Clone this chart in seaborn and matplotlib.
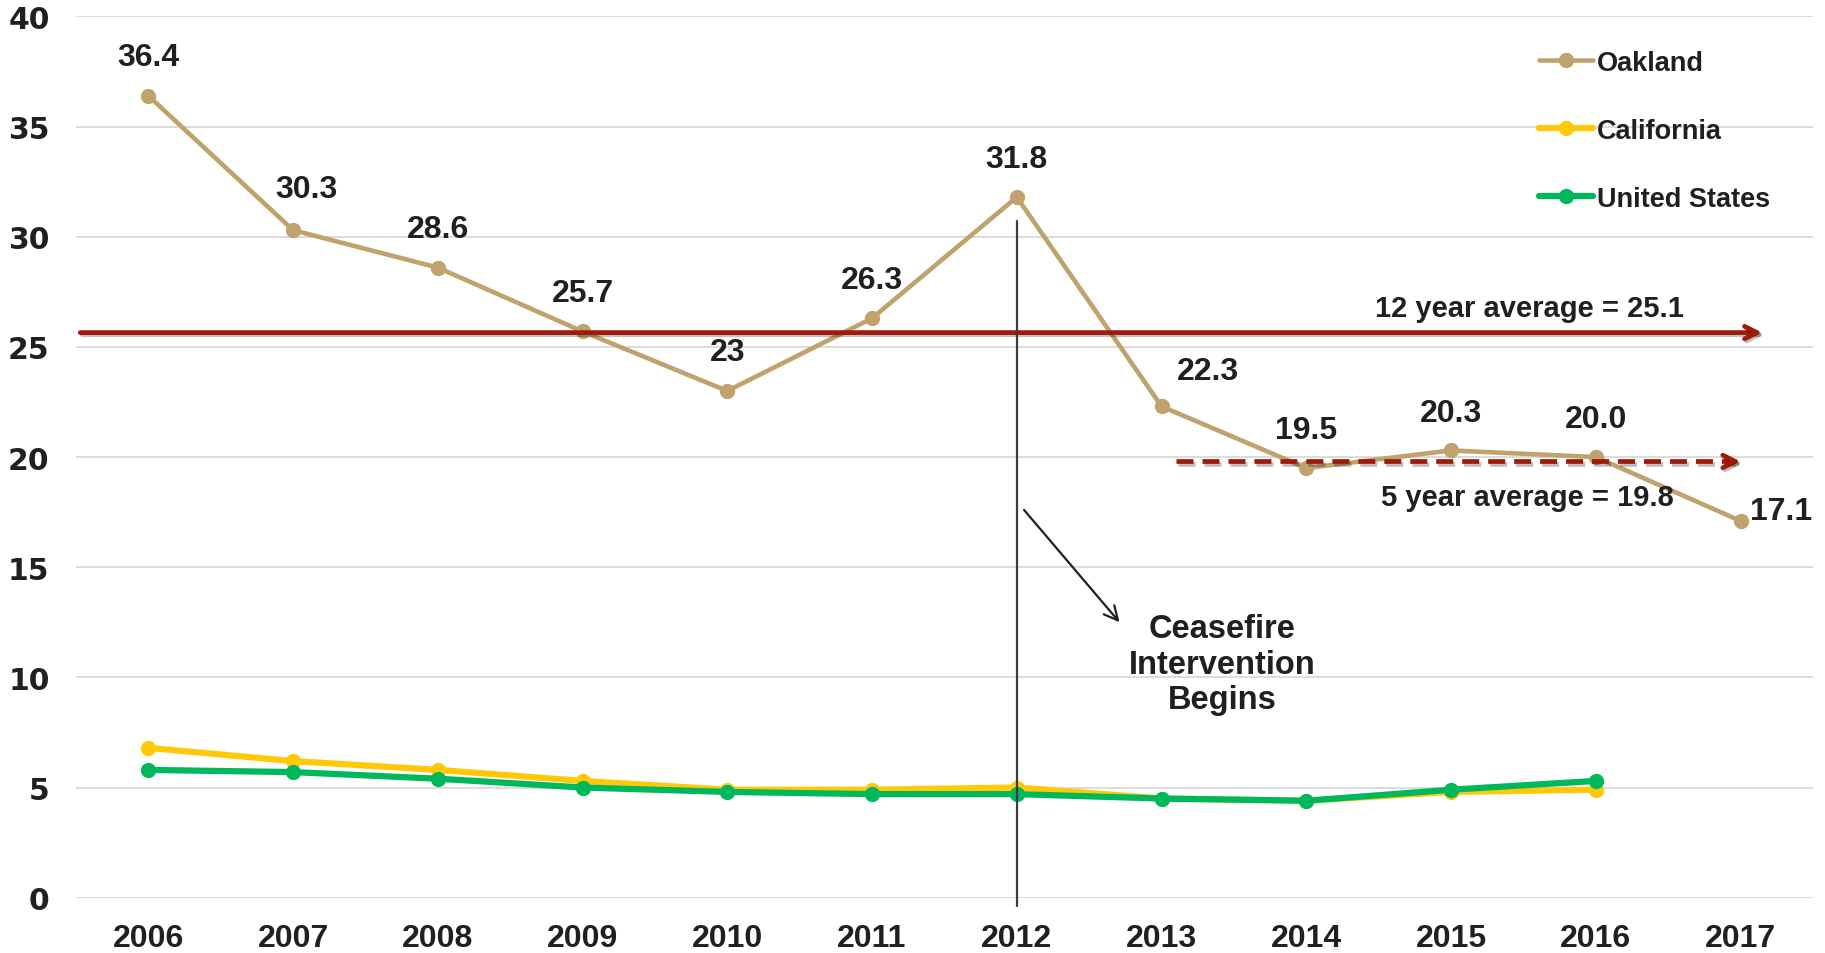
import pandas as pd
import seaborn as sns
import matplotlib.pyplot as plt
import matplotlib.patheffects as pe

# Values
years = [2006, 2007, 2008, 2009, 2010, 2011, 2012, 2013, 2014, 2015, 2016, 2017]
oakland = [36.4, 30.3, 28.6, 25.7, 23.0, 26.3, 31.8, 22.3, 19.5, 20.3, 20.0, 17.1]
oakland_labels = ["36.4", "30.3", "28.6", "25.7", "23", "26.3", "31.8",
                  "22.3", "19.5", "20.3", "20.0", "17.1"]
california = [6.8, 6.2, 5.8, 5.3, 4.9, 4.9, 5.0, 4.5, 4.4, 4.8, 4.9]
united_states = [5.8, 5.7, 5.4, 5.0, 4.8, 4.7, 4.7, 4.5, 4.4, 4.9, 5.3]

avg12_text = "12 year average = 25.1"
avg5_text = "5 year average = 19.8"
avg12_level = 25.65
avg5_level = 19.8
intervention_year = 2012

# Colours
tan = "#BFA26C"
gold = "#FFC90A"
green = "#00B85C"
red = "#9E1A0B"
ink = "#231F20"

oak_df = pd.DataFrame({"year": years, "rate": oakland})
ca_df = pd.DataFrame({"year": years[:len(california)], "rate": california})
us_df = pd.DataFrame({"year": years[:len(united_states)], "rate": united_states})

sns.set_style("whitegrid", {"grid.color": "#D9D9D9", "axes.edgecolor": "white"})
plt.rcParams['font.family'] = ['Liberation Sans', 'DejaVu Sans']

fig = plt.figure(figsize=(18.25, 9.54), dpi=100)
ax = fig.add_axes([0.0416, 0.058, 0.9518, 0.9237])

sns.lineplot(x="year", y="rate", data=oak_df, ax=ax, color=tan, marker="o",
             markersize=11, markeredgewidth=0, linewidth=3.3, label="Oakland", zorder=4)
sns.lineplot(x="year", y="rate", data=ca_df, ax=ax, color=gold, marker="o",
             markersize=11, markeredgewidth=0, linewidth=4.5, label="California", zorder=3)
sns.lineplot(x="year", y="rate", data=us_df, ax=ax, color=green, marker="o",
             markersize=11, markeredgewidth=0, linewidth=4.5, label="United States", zorder=3)

# Data labels for Oakland
label_dx = [0, 0.09, 0, 0, 0, 0, 0, 0.32, 0, 0, 0, 0.28]
label_dy = [1.75, 1.85, 1.75, 1.75, 1.75, 1.75, 1.75, 1.6, 1.75, 1.7, 1.75, 0.45]
for yr, val, txt, dx, dy in zip(years, oakland, oakland_labels, label_dx, label_dy):
    ax.text(yr + dx, val + dy, txt, ha="center", va="center", fontsize=23,
            fontweight="bold", color=ink, zorder=6)

shadow = [pe.SimpleLineShadow(offset=(1.5, -1.5), alpha=0.25), pe.Normal()]

# 12 year average arrow
ax.annotate("", xy=(2017.15, avg12_level), xytext=(2005.53, avg12_level),
            arrowprops=dict(arrowstyle="->,head_length=0.9,head_width=0.45",
                            lw=3.4, color=red, shrinkA=0, shrinkB=0,
                            path_effects=shadow),
            zorder=5, annotation_clip=False)
ax.text(2015.54, avg12_level + 1.13, avg12_text, ha="center", va="center",
        fontsize=21, fontweight="bold", color=ink, zorder=6)

# 5 year average dashed arrow
ax.plot([2013.1, 2016.95], [avg5_level, avg5_level], color=red, lw=3.4,
        dashes=(3.6, 1.9), zorder=5, path_effects=shadow)
ax.annotate("", xy=(2017.0, avg5_level), xytext=(2016.9, avg5_level),
            arrowprops=dict(arrowstyle="->,head_length=0.9,head_width=0.45",
                            lw=3.4, color=red, shrinkA=0, shrinkB=0,
                            path_effects=shadow),
            zorder=5)
ax.text(2015.53, 18.17, avg5_text, ha="center", va="center",
        fontsize=21, fontweight="bold", color=ink, zorder=6)

# Intervention marker
ax.plot([intervention_year, intervention_year], [30.7, -0.4], color="#3F3B3A",
        lw=1.6, zorder=5, clip_on=False)
ax.annotate("", xy=(2012.71, 12.5), xytext=(2012.05, 17.6),
            arrowprops=dict(arrowstyle="->,head_length=1.0,head_width=0.5",
                            lw=1.6, color=ink, shrinkA=0, shrinkB=0),
            zorder=5)
ax.text(2013.42, 10.6, "Ceasefire\nIntervention\nBegins", ha="center", va="center",
        fontsize=23.5, fontweight="bold", color=ink, linespacing=1.2, zorder=6)

# Axes
ax.set_xlim(2005.5, 2017.5)
ax.set_ylim(0, 40)
ax.set_xticks(years)
ax.set_yticks(range(0, 41, 5))
ax.set_xlabel("")
ax.set_ylabel("")
ax.grid(axis="x", visible=False)
ax.grid(axis="y", color="#D9D9D9", lw=1.3)
ax.tick_params(axis="both", length=0, colors=ink)
ax.tick_params(axis="x", pad=18)
ax.tick_params(axis="y", pad=19)
for t in ax.get_xticklabels():
    t.set_fontsize(23)
    t.set_fontweight("bold")
for t in ax.get_yticklabels():
    t.set_fontsize(21.5)
    t.set_fontweight("bold")
    t.set_family("DejaVu Sans")
for s in ax.spines.values():
    s.set_visible(False)

ax.legend(loc="upper left", bbox_to_anchor=(0.828, 0.99), frameon=False,
          prop=dict(weight="bold", size=19.5), labelcolor=ink,
          labelspacing=1.55, handlelength=2.0, handletextpad=0.15)

fig.savefig("out.png", dpi=100)
